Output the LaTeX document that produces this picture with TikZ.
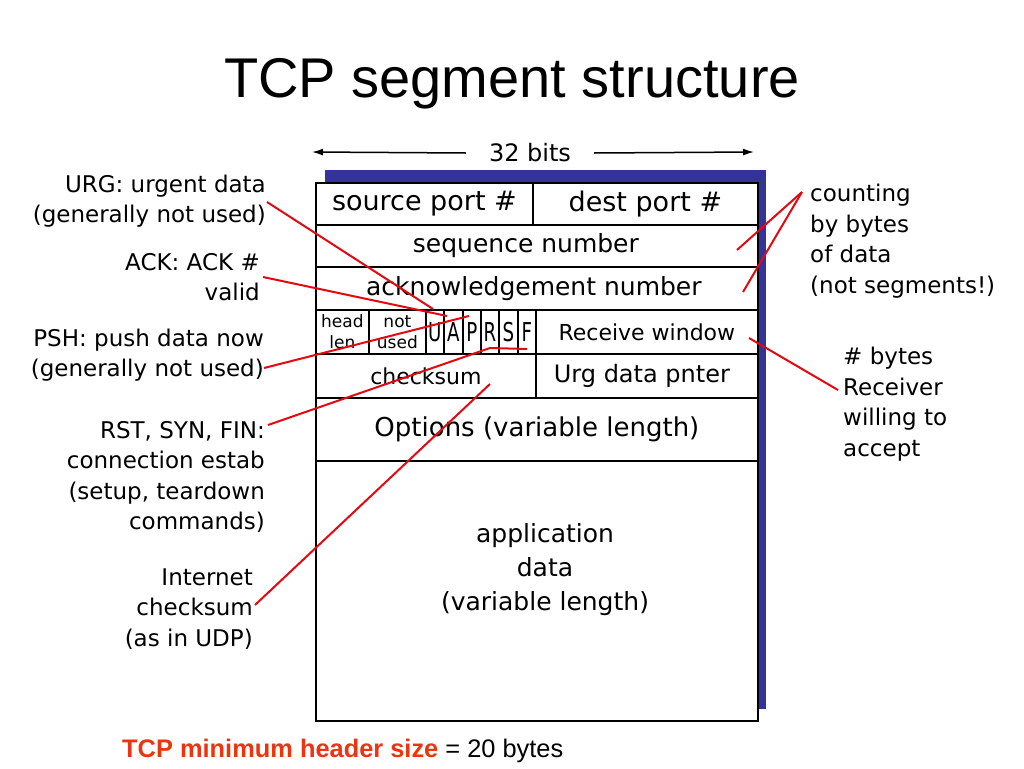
\documentclass[tikz,border=0pt]{standalone}
\usepackage{fontspec}
\setmainfont{DejaVu Sans}
\newfontfamily\arialfont{Liberation Sans}
\usetikzlibrary{arrows.meta,calc}
\definecolor{shadowblue}{RGB}{51,51,153}
\definecolor{notered}{RGB}{236,52,18}
\definecolor{linered}{RGB}{228,8,16}
\begin{document}
\begin{tikzpicture}[x=1pt,y=-1pt,
  cellbox/.style={draw=black, fill=white, line width=1.8pt, anchor=north west, inner sep=0pt, align=center, font=\fontsize{25}{30}\selectfont},
  smallcell/.style={font=\fontsize{17}{21}\selectfont},
  flagcell/.style={font=\fontsize{26}{26}\selectfont, minimum height=44pt},
  midcell/.style={font=\fontsize{22}{26}\selectfont, minimum height=44pt},
  leftlabel/.style={anchor=east, align=right, inner sep=0pt, font=\fontsize{23}{30.5}\selectfont},
  rightlabel/.style={anchor=west, align=left, inner sep=0pt, font=\fontsize{23}{30.5}\selectfont},
  redline/.style={draw=linered, line width=2pt},
  bitarrow/.style={draw=black, line width=1.5pt, -{Latex[length=11pt,width=7pt]}}
]
\useasboundingbox (0,0) rectangle (1024,768);
\fill[white] (0,0) rectangle (1024,768);

% title
\node[font=\arialfont\fontsize{56}{60}\selectfont, anchor=base, inner sep=0pt] (title) at (512,97) {TCP segment structure};

% 32 bits
\node[font=\fontsize{24}{28}\selectfont, inner xsep=23pt, inner ysep=0pt] (bits) at (530,153) {32 bits};
\coordinate (bl) at (312,152);
\coordinate (br) at (754,152);
\draw[bitarrow] (bits.west) -- (bl);
\draw[bitarrow] (bits.east) -- (br);

% shadow
\fill[shadowblue] (325,170) rectangle (766,709);

% cells
\node[cellbox, minimum width=217pt, minimum height=42pt, font=\fontsize{27}{30}\selectfont] (src) at (315,182) {source port \#};
\node[cellbox, minimum width=225pt, minimum height=42pt, font=\fontsize{27}{30}\selectfont] (dst) at (532,182) {dest port \#};
\node[cellbox, minimum width=442pt, minimum height=42pt] (seq) at (315,224) {sequence number\hspace*{22pt}};
\node[cellbox, minimum width=442pt, minimum height=43pt] (ackn) at (315,266) {acknowledgement number\hspace*{6pt}};
\node[cellbox, smallcell, minimum width=53pt, minimum height=44pt] (hlen) at (315,309) {head\\len};
\node[cellbox, smallcell, minimum width=57pt, minimum height=44pt] (nused) at (368,309) {not\\used};
\node[cellbox, flagcell, minimum width=18pt] (fu) at (425,309) {\scalebox{0.7}[1]{U}};
\node[cellbox, flagcell, minimum width=19pt] (fa) at (443,309) {\scalebox{0.7}[1]{A}};
\node[cellbox, flagcell, minimum width=18pt] (fp) at (462,309) {\scalebox{0.7}[1]{P}};
\node[cellbox, flagcell, minimum width=18pt] (fr) at (480,309) {\scalebox{0.7}[1]{R}};
\node[cellbox, flagcell, minimum width=19pt] (fs) at (498,309) {\scalebox{0.7}[1]{S}};
\node[cellbox, flagcell, minimum width=18pt] (ff) at (517,309) {\scalebox{0.7}[1]{F}};
\node[cellbox, midcell, minimum width=222pt] (rwnd) at (535,309) {Receive window};
\node[cellbox, midcell, minimum width=220pt] (cksum) at (315,353) {checksum};
\node[cellbox, midcell, minimum width=222pt, font=\fontsize{24}{26}\selectfont] (urgp) at (535,353) {Urg data pnter\hspace*{10pt}};
\node[cellbox, minimum width=442pt, minimum height=63pt, font=\fontsize{26}{30}\selectfont] (opts) at (315,397) {Options (variable length)};
\node[cellbox, minimum width=442pt, minimum height=260pt] (data) at (315,460) {};
\node[align=center, inner sep=0pt, font=\fontsize{25}{34}\selectfont] (datatxt) at (545,570) {application\\data\\(variable length)};

% left labels
\node[leftlabel] (urg) at (266,201) {URG: urgent data\\(generally not used)};
\node[leftlabel] (ack) at (260,277) {ACK: ACK \#\\valid};
\node[leftlabel] (psh) at (264,355) {PSH: push data now\\(generally not used)};
\node[leftlabel] (rst) at (265,477) {RST, SYN, FIN:\\connection estab\\(setup, teardown\\commands)};
\node[leftlabel] (inet) at (253,609) {Internet\\checksum\\(as in UDP)};

% right labels
\node[rightlabel] (cnt) at (810,241) {counting\\by bytes\\of data\\(not segments!)};
\node[rightlabel] (rw) at (843,404) {\# bytes\\Receiver\\willing to\\accept};

% connector end points
\coordinate (pU) at (433,309);
\coordinate (pA) at (447,316);
\coordinate (pP) at (469,316);
\coordinate (pR) at (490,348);
\coordinate (pF) at (527,349);
\coordinate (pCk) at (490,384);
\coordinate (pSeq) at (737,250);
\coordinate (pAck) at (743,292);
\coordinate (pRw) at (749,338);

% red connectors
\draw[redline] ($(urg.east)+(1,1)$) -- (pU);
\draw[redline] ($(ack.east)+(3,0)$) -- (pA);
\draw[redline] ($(psh.east)+(0,13)$) -- (pP);
\draw[redline] ($(rst.east)+(3,-52)$) -- (pR) -- (pF);
\draw[redline] ($(inet.east)+(2,-4)$) -- (pCk);
\draw[redline] ($(cnt.west)+(-8,-49)$) -- (pSeq);
\draw[redline] ($(cnt.west)+(-8,-49)$) -- (pAck);
\draw[redline] ($(rw.west)+(-5,-14)$) -- (pRw);

% bottom note
\node[anchor=base west, inner sep=0pt, font=\arialfont\fontsize{25.4}{30}\selectfont] (note) at (122,757) {\textcolor{notered}{\bfseries TCP minimum header size} = 20 bytes};
\end{tikzpicture}
\end{document}
